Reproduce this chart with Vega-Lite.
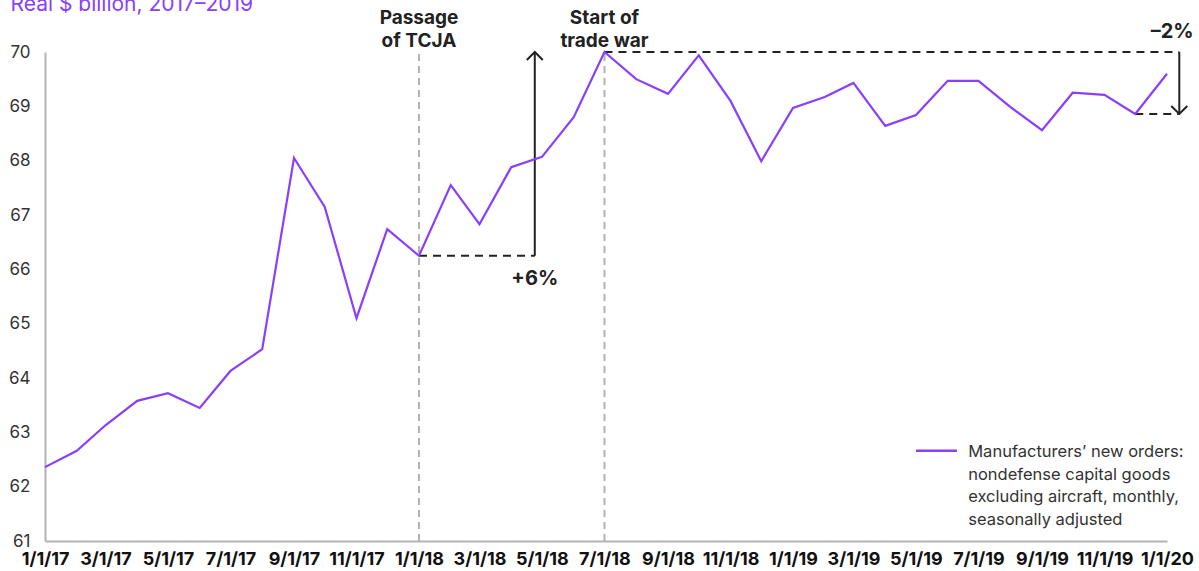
{
  "$schema": "https://vega.github.io/schema/vega-lite/v6.json",
  "width": 1122,
  "height": 489,
  "autosize": {"type": "none"},
  "padding": {"left": 45, "top": 52, "right": 32, "bottom": 30},
  "background": "white",
  "config": {
    "font": "Inter",
    "view": {"stroke": null}
  },
  "datasets": {
    "series": [
      {"date": "2017/01/01", "value": 62.36},
      {"date": "2017/02/01", "value": 62.66},
      {"date": "2017/03/01", "value": 63.13},
      {"date": "2017/04/01", "value": 63.58},
      {"date": "2017/05/01", "value": 63.72},
      {"date": "2017/06/01", "value": 63.45},
      {"date": "2017/07/01", "value": 64.13},
      {"date": "2017/08/01", "value": 64.53},
      {"date": "2017/09/01", "value": 68.05},
      {"date": "2017/10/01", "value": 67.15},
      {"date": "2017/11/01", "value": 65.10},
      {"date": "2017/12/01", "value": 66.74},
      {"date": "2018/01/01", "value": 66.25},
      {"date": "2018/02/01", "value": 67.55},
      {"date": "2018/03/01", "value": 66.83},
      {"date": "2018/04/01", "value": 67.88},
      {"date": "2018/05/01", "value": 68.07},
      {"date": "2018/06/01", "value": 68.80},
      {"date": "2018/07/01", "value": 70.00},
      {"date": "2018/08/01", "value": 69.50},
      {"date": "2018/09/01", "value": 69.23},
      {"date": "2018/10/01", "value": 69.94},
      {"date": "2018/11/01", "value": 69.10},
      {"date": "2018/12/01", "value": 67.99},
      {"date": "2019/01/01", "value": 68.97},
      {"date": "2019/02/01", "value": 69.17},
      {"date": "2019/03/01", "value": 69.43},
      {"date": "2019/04/01", "value": 68.64},
      {"date": "2019/05/01", "value": 68.84},
      {"date": "2019/06/01", "value": 69.47},
      {"date": "2019/07/01", "value": 69.47},
      {"date": "2019/08/01", "value": 68.99},
      {"date": "2019/09/01", "value": 68.56},
      {"date": "2019/10/01", "value": 69.25},
      {"date": "2019/11/01", "value": 69.21},
      {"date": "2019/12/01", "value": 68.86},
      {"date": "2020/01/01", "value": 69.60}
    ],
    "events": [
      {"date": "2018/01/01", "value": 61, "value2": 70, "label": "Passage\nof TCJA"},
      {"date": "2018/07/01", "value": 61, "value2": 70, "label": "Start of\ntrade war"}
    ],
    "levels": [
      {"date": "2018/01/01", "date2": "2018/04/24", "value": 66.25},
      {"date": "2018/07/01", "date2": "2020/01/13", "value": 70.0},
      {"date": "2019/12/01", "date2": "2020/01/13", "value": 68.86}
    ],
    "changes": [
      {"date": "2018/04/24", "value": 66.25, "value2": 70.0, "label": "+6%", "labelValue": 65.82, "labelDate": "2018/04/24"},
      {"date": "2020/01/13", "value": 70.0, "value2": 68.86, "label": "–2%", "labelValue": 70.36, "labelDate": "2020/01/06"}
    ],
    "legend": [
      {"date": "2019/05/01", "date2": "2019/06/10", "value": 62.66, "textDate": "2019/06/21", "textValue": 62.545, "label": "Manufacturers’ new orders:\nnondefense capital goods\nexcluding aircraft, monthly,\nseasonally adjusted"}
    ]
  },
  "layer": [
    {
      "data": {"name": "events"},
      "mark": {"type": "rule", "color": "#b3b3b3", "strokeWidth": 2, "strokeDash": [7, 5]},
      "encoding": {
        "x": {"field": "date", "type": "temporal"},
        "y": {"field": "value", "type": "quantitative"},
        "y2": {"field": "value2"}
      }
    },
    {
      "data": {"name": "events"},
      "mark": {"type": "text", "lineBreak": "\n", "baseline": "alphabetic", "align": "center", "dy": -28, "fontSize": 19, "fontWeight": "bold", "color": "#222", "lineHeight": 23},
      "encoding": {
        "x": {"field": "date", "type": "temporal"},
        "y": {"field": "value2", "type": "quantitative"},
        "text": {"field": "label", "type": "nominal"}
      }
    },
    {
      "data": {"name": "levels"},
      "mark": {"type": "rule", "color": "#222", "strokeWidth": 2, "strokeDash": [8, 6]},
      "encoding": {
        "x": {"field": "date", "type": "temporal"},
        "x2": {"field": "date2"},
        "y": {"field": "value", "type": "quantitative"}
      }
    },
    {
      "data": {"name": "changes"},
      "mark": {"type": "rule", "color": "#222", "strokeWidth": 2},
      "encoding": {
        "x": {"field": "date", "type": "temporal"},
        "y": {"field": "value", "type": "quantitative"},
        "y2": {"field": "value2"}
      }
    },
    {
      "data": {"name": "changes"},
      "transform": [{"filter": "datum.value2 > datum.value"}],
      "mark": {"type": "point", "shape": "M-1,1L0,0L1,1", "filled": false, "stroke": "#222", "strokeWidth": 2, "size": 256, "opacity": 1},
      "encoding": {
        "x": {"field": "date", "type": "temporal"},
        "y": {"field": "value2", "type": "quantitative"}
      }
    },
    {
      "data": {"name": "changes"},
      "transform": [{"filter": "datum.value2 < datum.value"}],
      "mark": {"type": "point", "shape": "M-1,-1L0,0L1,-1", "filled": false, "stroke": "#222", "strokeWidth": 2, "size": 256, "opacity": 1},
      "encoding": {
        "x": {"field": "date", "type": "temporal"},
        "y": {"field": "value2", "type": "quantitative"}
      }
    },
    {
      "data": {"name": "changes"},
      "mark": {"type": "text", "align": "center", "baseline": "middle", "fontSize": 20, "fontWeight": "bold", "color": "#222"},
      "encoding": {
        "x": {"field": "labelDate", "type": "temporal"},
        "y": {"field": "labelValue", "type": "quantitative"},
        "text": {"field": "label", "type": "nominal"}
      }
    },
    {
      "data": {"name": "legend"},
      "mark": {"type": "rule", "color": "#8a3ffc", "strokeWidth": 2.5},
      "encoding": {
        "x": {"field": "date", "type": "temporal"},
        "x2": {"field": "date2"},
        "y": {"field": "value", "type": "quantitative"}
      }
    },
    {
      "data": {"name": "legend"},
      "mark": {"type": "text", "lineBreak": "\n", "align": "left", "baseline": "alphabetic", "fontSize": 16.5, "lineHeight": 22.7, "color": "#333"},
      "encoding": {
        "x": {"field": "textDate", "type": "temporal"},
        "y": {"field": "textValue", "type": "quantitative"},
        "text": {"field": "label", "type": "nominal"}
      }
    },
    {
      "data": {"name": "series"},
      "mark": {"type": "line", "color": "#8a3ffc", "strokeWidth": 2.2},
      "encoding": {
        "x": {
          "field": "date",
          "type": "temporal",
          "scale": {"domain": [{"year": 2017, "month": 1, "date": 1}, {"year": 2020, "month": 1, "date": 1}]},
          "axis": {
            "title": null,
            "format": "%-m/%-d/%y",
            "tickCount": {"interval": "month", "step": 2},
            "labelFontSize": 18,
            "labelFontWeight": "bold",
            "labelColor": "#111",
            "labelPadding": 9,
            "labelOverlap": false,
            "labelFlush": false,
            "labelBound": false,
            "ticks": false,
            "grid": false,
            "domainColor": "#b3b3b3",
            "domainWidth": 2
          }
        },
        "y": {
          "field": "value",
          "type": "quantitative",
          "scale": {"domain": [61, 70], "nice": false, "zero": false},
          "axis": {
            "title": "Real $ billion, 2017–2019",
            "titleAngle": 0,
            "titleAlign": "left",
            "titleBaseline": "alphabetic",
            "titleX": -35,
            "titleY": -42,
            "titleFontSize": 21,
            "titleFontWeight": "normal",
            "titleColor": "#8a3ffc",
            "values": [61, 62, 63, 64, 65, 66, 67, 68, 69, 70],
            "format": "d",
            "labelFontSize": 17,
            "labelColor": "#333",
            "labelPadding": 15,
            "ticks": false,
            "grid": false,
            "domainColor": "#b3b3b3",
            "domainWidth": 2
          }
        }
      }
    }
  ]
}
